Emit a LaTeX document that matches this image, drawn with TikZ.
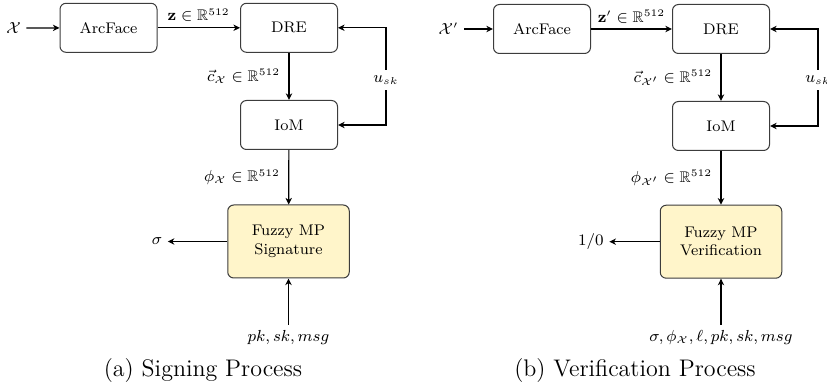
\documentclass[tikz,border=0pt]{standalone}
\usepackage{amsmath,amssymb}
\usetikzlibrary{arrows.meta}
\definecolor{fuzzyfill}{RGB}{255,245,202}
\definecolor{boxline}{RGB}{60,60,60}
\begin{document}
\begin{tikzpicture}[x=0.5pt,y=-0.5pt,
  every node/.style={font=\fontsize{7.7}{9.2}\selectfont},
  blk/.style={draw=boxline,line width=0.5pt,rounded corners=3pt,align=center,
    minimum width=48.5pt,minimum height=24.5pt,inner sep=1pt},
  fuzzy/.style={blk,fill=fuzzyfill,minimum width=60.75pt,minimum height=36.5pt},
  lbl/.style={inner sep=2.6pt},
  captxt/.style={font=\fontsize{12}{14}\selectfont},
  arr/.style={-{Stealth[length=3.3pt,width=3.2pt,inset=1pt]},line width=0.6pt}]
\useasboundingbox (0,0) rectangle (827,389);

% ---------- (a) Signing ----------
\node[blk] (arc1) at (108.5,27.8) {ArcFace};
\node[blk] (dre1) at (289,27.8) {DRE};
\node[blk] (iom1) at (289,125) {IoM};
\node[fuzzy] (fz1) at (288.5,241.5) {Fuzzy MP\\Signature};
\node[lbl] (x1) at (13.5,28) {$\mathcal{X}$};
\node[lbl,fill=white] (u1) at (386,80) {$u_{sk}$};
\node[lbl] (s1) at (157,241.5) {$\sigma$};
\node[lbl,anchor=north] (in1) at (288.5,325) {$pk, sk, msg$};
\node[captxt] (cap1) at (203,371) {(a) Signing Process};

\draw[arr] (x1) -- (arc1);
\draw[arr] (arc1) -- node[above,lbl] {$\mathbf{z}\in\mathbb{R}^{512}$} (dre1);
\draw[arr] (dre1) -- node[left,lbl,xshift=-1.5pt] {$\vec{c}_{\mathcal{X}}\in\mathbb{R}^{512}$} (iom1);
\draw[arr] (iom1) -- node[left,lbl,xshift=-1.5pt] {$\phi_{\mathcal{X}}\in\mathbb{R}^{512}$} (fz1);
\draw[arr] (u1) |- (dre1.east);
\draw[arr] (u1) |- (iom1.east);
\draw[arr] (fz1) -- (s1);
\draw[arr] (in1) -- (fz1);

% ---------- (b) Verification ----------
\node[blk] (arc2) at (542,29) {ArcFace};
\node[blk] (dre2) at (721,29) {DRE};
\node[blk] (iom2) at (721,126) {IoM};
\node[fuzzy] (fz2) at (721,241.7) {Fuzzy MP\\Verification};
\node[lbl] (x2) at (448.5,29) {$\mathcal{X}'$};
\node[lbl,fill=white] (u2) at (818,80) {$u_{sk}$};
\node[lbl] (o2) at (591,241.7) {$1/0$};
\node[lbl,anchor=north] (in2) at (721,325) {$\sigma, \phi_{\mathcal{X}}, \ell, pk, sk, msg$};
\node[captxt] (cap2) at (635,371) {(b) Verification Process};

\draw[arr] (x2) -- (arc2);
\draw[arr] (arc2) -- node[above,lbl] {$\mathbf{z}'\in\mathbb{R}^{512}$} (dre2);
\draw[arr] (dre2) -- node[left,lbl,xshift=-1.5pt] {$\vec{c}_{\mathcal{X}'}\in\mathbb{R}^{512}$} (iom2);
\draw[arr] (iom2) -- node[left,lbl,xshift=-1.5pt] {$\phi_{\mathcal{X}'}\in\mathbb{R}^{512}$} (fz2);
\draw[arr] (u2) |- (dre2.east);
\draw[arr] (u2) |- (iom2.east);
\draw[arr] (fz2) -- (o2);
\draw[arr] (in2) -- (fz2);
\end{tikzpicture}
\end{document}
